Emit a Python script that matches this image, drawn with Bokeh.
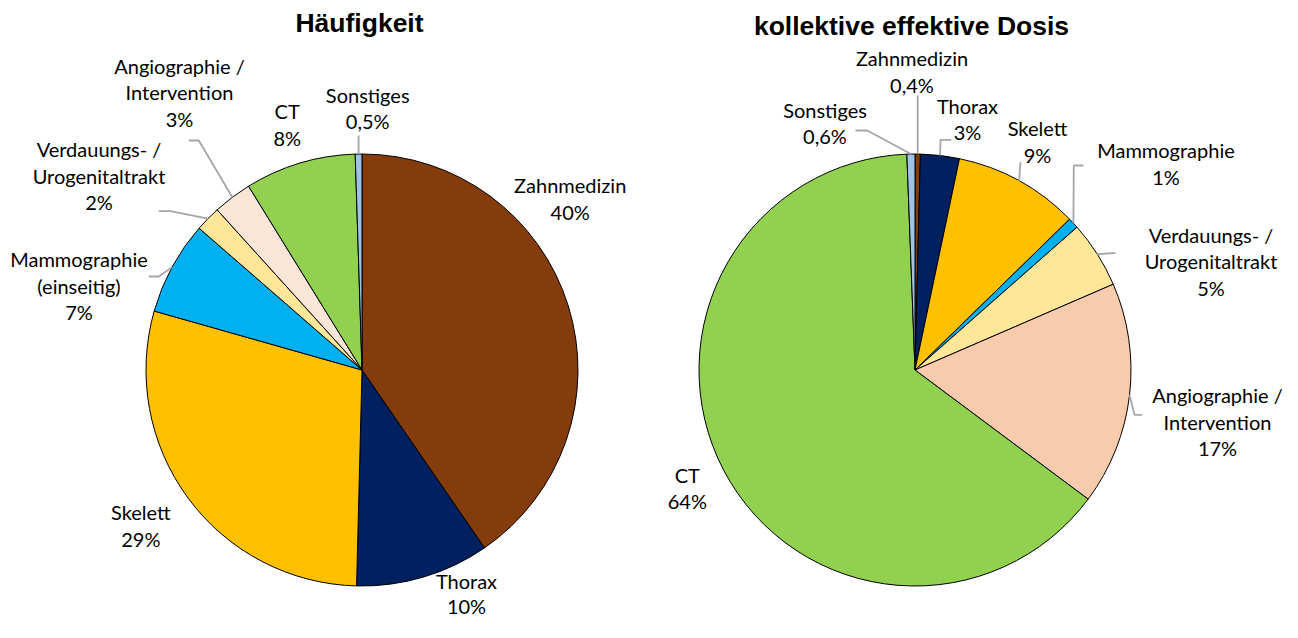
import numpy as np
from bokeh.plotting import figure
from bokeh.models import Range1d, ColumnDataSource
from bokeh.core.properties import value
from bokeh.embed import file_html
from bokeh.resources import INLINE

# ---------------- data ----------------
categories = ["Zahnmedizin", "Thorax", "Skelett", "Mammographie",
              "Verdauungs- / Urogenitaltrakt", "Angiographie / Intervention",
              "CT", "Sonstiges"]
titles = ["Häufigkeit", "kollektive effektive Dosis"]

freq_values = [40.4, 10.0, 29.0, 7.0, 1.9, 2.9, 8.3, 0.5]
freq_pct_labels = ["40%", "10%", "29%", "7%", "2%", "3%", "8%", "0,5%"]
freq_name_labels = ["Zahnmedizin", "Thorax", "Skelett", "Mammographie\n(einseitig)",
                    "Verdauungs- /\nUrogenitaltrakt", "Angiographie /\nIntervention",
                    "CT", "Sonstiges"]

dose_values = [0.4, 2.9, 9.4, 0.8, 5.0, 16.7, 64.2, 0.6]
dose_pct_labels = ["0,4%", "3%", "9%", "1%", "5%", "17%", "64%", "0,6%"]
dose_name_labels = ["Zahnmedizin", "Thorax", "Skelett", "Mammographie",
                    "Verdauungs- /\nUrogenitaltrakt", "Angiographie /\nIntervention",
                    "CT", "Sonstiges"]

# ---------------- styles / layout ----------------
freq_colors = ["#843C0C", "#002060", "#FFC000", "#00B0F0", "#FFE699", "#FBE5D6", "#92D050", "#9DC3E6"]
dose_colors = ["#843C0C", "#002060", "#FFC000", "#00B0F0", "#FFE699", "#F8CBAD", "#92D050", "#9DC3E6"]

W, H = 1282, 622
R = 216
LINE_H = 26.5
FONT = "Lato"
FONT_SIZE = "20px"
LEADER = "#A6A6A6"
TEXT_DY = -7.5   # compensation for the renderer's baseline offset


def Y(py):
    # picture pixel y (from top) -> data y (y axis pointing up)
    return H - py


pies = [
    dict(cx=361.5, cy=369.5, values=freq_values, colors=freq_colors,
         names=freq_name_labels, pcts=freq_pct_labels,
         title=titles[0], title_pos=(359, 29.5),
         label_pos=[(569.7, 192.3), (466, 587.5), (140.3, 519.3), (78.5, 266),
                    (98.5, 156), (179, 72.7), (286.7, 118.3), (367.2, 101.7)],
         line_h=[LINE_H, 25.0, LINE_H, LINE_H, LINE_H, LINE_H, LINE_H, LINE_H],
         leaders=[None, None, None, [(148.3, 276), (158.3, 276)],
                  [(158.3, 210.7), (170, 210.7)], [(188.3, 140), (198.3, 140)],
                  None, [("rim", 135)]]),
    dict(cx=914.5, cy=369.5, values=dose_values, colors=dose_colors,
         names=dose_name_labels, pcts=dose_pct_labels,
         title=titles[1], title_pos=(911, 33.3),
         label_pos=[(911.5, 65), (967, 112.7), (1037, 135), (1165.5, 157.3),
                    (1210.5, 241.7), (1217, 402.3), (686.8, 481.7), (824.5, 116.7)],
         line_h=[LINE_H] * 8,
         leaders=[[("rim", 95)], [(950.7, 139.3), (940, 139.3)], [(1020, 161.7)],
                  [(1083, 165), (1073.3, 165)], [(1115, 252.3)],
                  [(1141.7, 414.3), (1134, 414.3)], None,
                  [(855, 130), (866.7, 130)]]),
]

p = figure(width=W, height=H, output_backend="svg", toolbar_location=None,
           x_range=Range1d(0, W), y_range=Range1d(0, H),
           min_border=0, x_axis_location=None, y_axis_location=None)
p.grid.visible = False
p.outline_line_color = None
p.background_fill_color = "white"
p.border_fill_color = "white"

for pie in pies:
    vals = np.array(pie["values"], dtype=float)
    frac = vals / vals.sum()
    cum = np.concatenate([[0.0], np.cumsum(frac)])
    a_from = np.pi / 2 - 2 * np.pi * cum[:-1]
    a_to = np.pi / 2 - 2 * np.pi * cum[1:]
    cx, cy = pie["cx"], pie["cy"]
    src = ColumnDataSource(dict(start=a_to, end=a_from, color=pie["colors"]))
    p.wedge(x=cx, y=Y(cy), radius=R, start_angle="start", end_angle="end",
            direction="anticlock", fill_color="color", line_color="black",
            line_width=1, source=src)

    # leader lines: from label elbow to rim point at slice mid-angle
    mid = (cum[:-1] + cum[1:]) / 2 * 2 * np.pi
    xs, ys = [], []
    for i, ld in enumerate(pie["leaders"]):
        if ld is None:
            continue
        rx = cx + R * np.sin(mid[i])
        ry = cy - R * np.cos(mid[i])
        pts = [((rx if px == "rim" else px), py) for px, py in ld] + [(rx, ry)]
        xs.append([q[0] for q in pts])
        ys.append([Y(q[1]) for q in pts])
    p.multi_line(xs=xs, ys=ys, line_color=LEADER, line_width=1.8)

    # labels
    tx, ty, tt = [], [], []
    for i, (lx, ly) in enumerate(pie["label_pos"]):
        lines = pie["names"][i].split("\n") + [pie["pcts"][i]]
        for k, line in enumerate(lines):
            tx.append(lx)
            ty.append(Y(ly + k * pie["line_h"][i] + TEXT_DY))
            tt.append(line)
    p.text(x=tx, y=ty, text=tt, text_font=value(FONT), text_font_size=FONT_SIZE,
           text_align="center", text_baseline="alphabetic", text_color="black")

    # title
    p.text(x=[pie["title_pos"][0]], y=[Y(pie["title_pos"][1] + TEXT_DY)], text=[pie["title"]],
           text_font=value("Liberation Sans"), text_font_size="26.5px",
           text_font_style="bold", text_align="center", text_baseline="alphabetic",
           text_color="black")

open("out.html", "w").write(file_html(p, INLINE))
